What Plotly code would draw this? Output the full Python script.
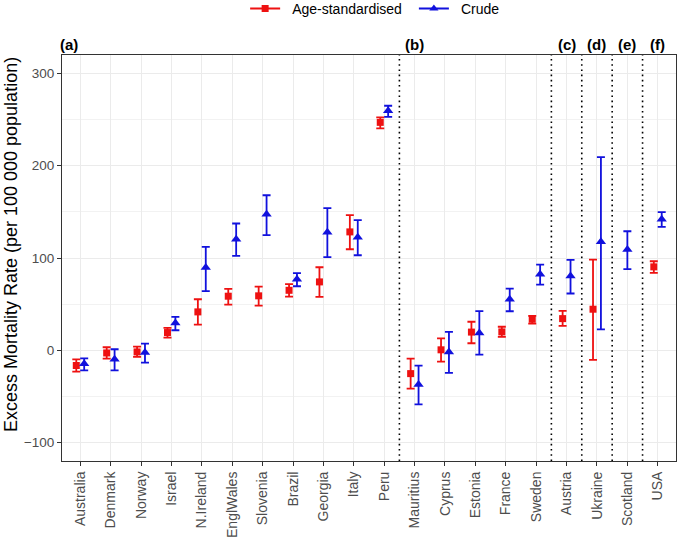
import plotly.graph_objects as go

countries = ["Australia", "Denmark", "Norway", "Israel", "N.Ireland", "EnglWales",
             "Slovenia", "Brazil", "Georgia", "Italy", "Peru", "Mauritius", "Cyprus",
             "Estonia", "France", "Sweden", "Austria", "Ukraine", "Scotland", "USA"]

# Age-standardised (None = not available)
age_val = [-16.5, -2.9, -1.8, 19.2, 41.6, 58.6, 59.0, 65.0, 74.1, 128.3, 247.0,
           -25.3, 0.5, 19.7, 19.9, 33.6, 34.3, 44.5, None, 90.4]
age_lo = [-23.1, -9.0, -7.2, 13.7, 27.8, 49.5, 48.4, 58.2, 57.8, 109.5, 240.4,
          -41.6, -12.3, 7.6, 14.5, 28.9, 26.4, -10.5, None, 83.9]
age_hi = [-9.8, 3.3, 4.0, 24.2, 55.3, 66.5, 69.0, 71.6, 90.0, 146.4, 252.3,
          -9.0, 12.8, 30.9, 25.5, 37.2, 42.7, 98.3, None, 96.5]

# Crude
crude_val = [-14.5, -9.8, -2.5, 29.6, 89.7, 120.4, 147.5, 77.0, 128.0, 122.6, 259.6,
             -37.2, -1.8, 18.8, 55.3, 82.4, 80.6, 117.5, 109.2, 142.0]
crude_lo = [-21.7, -21.7, -13.4, 21.7, 64.0, 102.3, 124.7, 69.4, 100.9, 103.0, 253.0,
            -58.6, -24.6, -4.7, 42.3, 71.2, 61.5, 22.6, 87.9, 133.8]
crude_hi = [-8.7, 1.1, 7.2, 36.2, 112.0, 137.4, 168.0, 83.5, 154.0, 141.0, 265.0,
            -16.6, 19.9, 42.5, 66.9, 92.9, 98.0, 209.3, 129.0, 149.7]

group_breaks = [10.5, 15.5, 16.5, 17.5, 18.5]
group_labels = ["(a)", "(b)", "(c)", "(d)", "(e)", "(f)"]
group_label_pos = [-0.37, 11, 16, 17, 18, 19]

y_ticks = [-100, 0, 100, 200, 300]
y_title = "Excess Mortality Rate (per 100 000 population)"

dodge = 0.13
ax, ay, aplus, aminus = [], [], [], []
cx, cy, cplus, cminus = [], [], [], []
for i in range(len(countries)):
    both = age_val[i] is not None and crude_val[i] is not None
    off = dodge if both else 0.0
    if age_val[i] is not None:
        ax.append(i - off)
        ay.append(age_val[i])
        aplus.append(age_hi[i] - age_val[i])
        aminus.append(age_val[i] - age_lo[i])
    if crude_val[i] is not None:
        cx.append(i + off)
        cy.append(crude_val[i])
        cplus.append(crude_hi[i] - crude_val[i])
        cminus.append(crude_val[i] - crude_lo[i])

RED = "#EE1111"
BLUE = "#1111DD"
FONT = "Liberation Sans, Arial"
SP = "\u2002"

fig = go.Figure()
fig.add_trace(go.Scatter(
    x=ax, y=ay, mode="markers", name="Age-standardised", showlegend=False,
    marker=dict(symbol="square", size=7, color=RED),
    error_y=dict(type="data", symmetric=False, array=aplus, arrayminus=aminus,
                 color=RED, thickness=1.8, width=4),
))
fig.add_trace(go.Scatter(
    x=cx, y=cy, mode="markers", name="Crude", showlegend=False,
    marker=dict(symbol="triangle-up", size=9, color=BLUE),
    error_y=dict(type="data", symmetric=False, array=cplus, arrayminus=cminus,
                 color=BLUE, thickness=1.8, width=4),
))
# legend keys (line + marker, as in the original legend)
fig.add_trace(go.Scatter(x=[None], y=[None], mode="lines+markers",
                         name=SP + "Age-standardised" + SP,
                         line=dict(color=RED, width=1.8),
                         marker=dict(symbol="square", size=7, color=RED)))
fig.add_trace(go.Scatter(x=[None], y=[None], mode="lines+markers", name=SP + "Crude",
                         line=dict(color=BLUE, width=1.8),
                         marker=dict(symbol="triangle-up", size=8, color=BLUE)))

shapes = []
for b in group_breaks:
    shapes.append(dict(type="line", xref="x", yref="paper", x0=b, x1=b, y0=0, y1=1,
                       line=dict(color="black", width=1.6, dash="1.6px,3.6px")))

annotations = []
for lab, pos in zip(group_labels, group_label_pos):
    annotations.append(dict(text="<b>" + lab + "</b>", x=pos, xref="x", y=1, yref="paper",
                            yanchor="bottom", xanchor="center", yshift=0, showarrow=False,
                            font=dict(size=15, color="black", family=FONT)))
annotations.append(dict(text=y_title, textangle=-90, x=-0.083, xref="paper", y=0.532,
                        yref="paper", xanchor="center", yanchor="middle", showarrow=False,
                        font=dict(size=18, color="black", family=FONT)))

fig.update_layout(
    width=680, height=540,
    margin=dict(l=62, r=4, t=55, b=79, autoexpand=False),
    paper_bgcolor="white", plot_bgcolor="white",
    font=dict(family=FONT, color="#4D4D4D"),
    showlegend=True,
    legend=dict(orientation="h", x=0.51, xanchor="center", y=1.153, yref="paper",
                yanchor="top", font=dict(size=14, color="black"),
                itemwidth=30, tracegroupgap=0),
    shapes=shapes, annotations=annotations,
    xaxis=dict(range=[-0.6, 19.6], tickmode="array", tickvals=list(range(len(countries))),
               ticktext=countries, tickangle=-90, tickfont=dict(size=14, color="#4D4D4D"),
               showgrid=True, gridcolor="#EBEBEB", gridwidth=1.1,
               ticks="outside", ticklen=4, tickcolor="#333333",
               showline=True, linecolor="#333333", linewidth=1, mirror=True,
               zeroline=False),
    yaxis=dict(range=[-120, 320], tickmode="array", tickvals=y_ticks,
               tickfont=dict(size=13.5, color="#4D4D4D"),
               showgrid=True, gridcolor="#EBEBEB", gridwidth=1.1,
               minor=dict(tickvals=[-50, 50, 150, 250], showgrid=True,
                          gridcolor="#F2F2F2", gridwidth=0.6, ticks=""),
               ticks="outside", ticklen=4, tickcolor="#333333",
               showline=True, linecolor="#333333", linewidth=1, mirror=True,
               zeroline=False),
)

fig.write_html("out.html", config={"displayModeBar": False},
               post_script="document.body.style.margin='0';document.body.style.overflow='hidden';")
